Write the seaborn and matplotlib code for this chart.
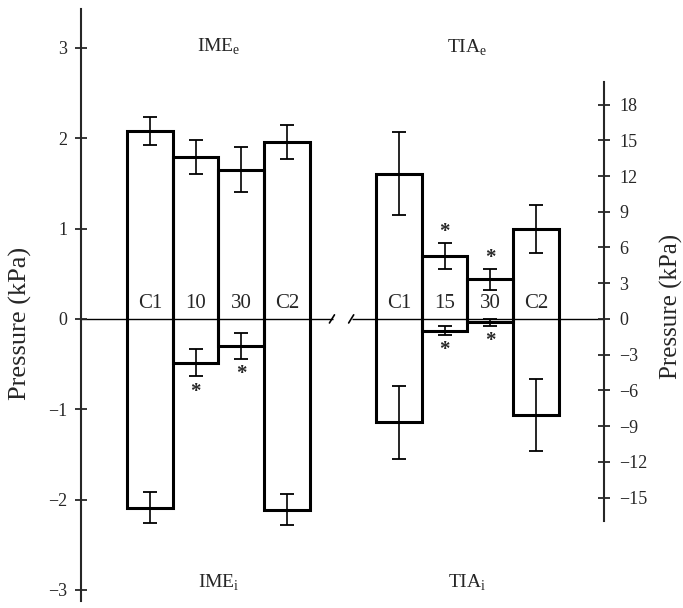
import numpy as np
import matplotlib
matplotlib.use('Agg')
import matplotlib.pyplot as plt
import seaborn as sns

# ---- data ----
ime_labels = ['C1', '10', '30', 'C2']
ime_e = [2.08, 1.79, 1.65, 1.96]
ime_e_err = [0.16, 0.19, 0.25, 0.19]
ime_i = [-2.09, -0.485, -0.30, -2.11]
ime_i_err = [0.17, 0.15, 0.14, 0.17]
ime_i_sig = [False, True, True, False]

tia_labels = ['C1', '15', '30', 'C2']
tia_e = [12.2, 5.28, 3.32, 7.54]
tia_e_err = [3.5, 1.1, 0.86, 2.0]
tia_e_sig = [False, True, True, False]
tia_i = [-8.68, -0.98, -0.28, -8.04]
tia_i_err = [3.04, 0.37, 0.30, 3.03]
tia_i_sig = [False, True, True, False]

left_ticks = [-3, -2, -1, 0, 1, 2, 3]
right_ticks = [-15, -12, -9, -6, -3, 0, 3, 6, 9, 12, 15, 18]

# bar positions (left group, then right group after the axis break)
ime_pos = np.arange(4, dtype=float)
tia_pos = np.arange(4, dtype=float) + 5.44

sns.set_style('ticks')
plt.rcParams['font.family'] = ['Liberation Serif', 'DejaVu Serif']
plt.rcParams['mathtext.fontset'] = 'custom'
plt.rcParams['mathtext.rm'] = 'Liberation Serif'

fig = plt.figure(figsize=(6.83, 6.08), dpi=100)
ax = fig.add_axes([81 / 683, 0.0, 523 / 683, 1.0])
ax2 = ax.twinx()

bar_kw = dict(native_scale=True, width=1.0, fill=False, color='black',
              linewidth=2.2, errorbar=None)
err_kw = dict(fmt='none', ecolor='black', elinewidth=1.2, capsize=5, capthick=1.3)


def draw_group(a, pos, top, top_err, bot, bot_err):
    # one outlined box per condition, running from the inspiratory
    # (negative) value up to the expiratory (positive) value
    heights = np.array(top) - np.array(bot)
    sns.barplot(x=pos, y=heights, bottom=bot, ax=a, **bar_kw)
    a.errorbar(pos, top, yerr=top_err, **err_kw)
    a.errorbar(pos, bot, yerr=bot_err, **err_kw)


draw_group(ax, ime_pos, ime_e, ime_e_err, ime_i, ime_i_err)
draw_group(ax2, tia_pos, tia_e, tia_e_err, tia_i, tia_i_err)

# axis limits (zero at the same height on both axes)
xlim = (-1.505, 9.926)
ax.set_xlim(*xlim)
ax.set_ylim(-3.20, 3.53)
ax2.set_ylim(-24.27, 26.78)

# zero line with a break between the groups
brk0, brk1 = 4.0, 4.42
ax.hlines(0, xlim[0], brk0, color='black', linewidth=1.0, zorder=0.5)
ax.hlines(0, brk1, xlim[1], color='black', linewidth=1.0, zorder=0.5)
for b in (brk0 - 0.02, brk1 - 0.02):
    ax.plot([b - 0.055, b + 0.055], [-0.045, 0.045], color='black', linewidth=1.2)

# bar labels
for a, pos, labs in ((ax, ime_pos, ime_labels), (ax2, tia_pos, tia_labels)):
    for p, lab in zip(pos, labs):
        a.annotate(lab, (p, 0), xytext=(0, 8), textcoords='offset points',
                   ha='center', va='baseline', fontsize=15)


def stars(a, pos, vals, errs, sig, up):
    for p, v, e, s in zip(pos, vals, errs, sig):
        if not s:
            continue
        y = v + e if up else v - e
        a.annotate('*', (p, y), xytext=(0, 8 if up else -11),
                   textcoords='offset points', ha='center', va='center',
                   fontsize=15, fontweight='bold')


stars(ax, ime_pos, ime_i, ime_i_err, ime_i_sig, up=False)
stars(ax2, tia_pos, tia_e, tia_e_err, tia_e_sig, up=True)
stars(ax2, tia_pos, tia_i, tia_i_err, tia_i_sig, up=False)

# group titles
ax.text(ime_pos.mean(), 3.01, r'IME$_\mathregular{e}$', ha='center', va='center', fontsize=14)
ax.text(ime_pos.mean(), -2.92, r'IME$_\mathregular{i}$', ha='center', va='center', fontsize=14)
ax2.text(tia_pos.mean(), 22.8, r'TIA$_\mathregular{e}$', ha='center', va='center', fontsize=14)
ax2.text(tia_pos.mean(), -22.2, r'TIA$_\mathregular{i}$', ha='center', va='center', fontsize=14)

# spines and ticks
for s in ('top', 'right', 'bottom'):
    ax.spines[s].set_visible(False)
for s in ('top', 'left', 'bottom'):
    ax2.spines[s].set_visible(False)
ax.spines['left'].set_bounds(-3.12, 3.43)
ax2.spines['right'].set_bounds(-17.0, 19.9)
ax.spines['left'].set_linewidth(1.5)
ax2.spines['right'].set_linewidth(1.5)

ax.set_xticks([])
ax2.set_xticks([])
ax.set_yticks(left_ticks)
ax.set_yticklabels([str(t).replace('-', '\u2212') for t in left_ticks])
ax2.set_yticks(right_ticks)
ax2.set_yticklabels([str(t).replace('-', '\u2212') for t in right_ticks])
ax.tick_params(axis='y', direction='inout', length=8, width=1.3, labelsize=13, pad=6)
ax2.tick_params(axis='y', direction='inout', length=8, width=1.3, labelsize=13, pad=7)

ax.set_ylabel('Pressure (kPa)', fontsize=19)
ax.yaxis.set_label_coords(-0.094, 0.468)
ax2.set_ylabel('Pressure (kPa)', fontsize=18)
ax2.yaxis.set_label_coords(1.107, 0.496)
ax.set_xlabel('')
ax2.set_xlabel('')

fig.savefig('out.png', dpi=100)
